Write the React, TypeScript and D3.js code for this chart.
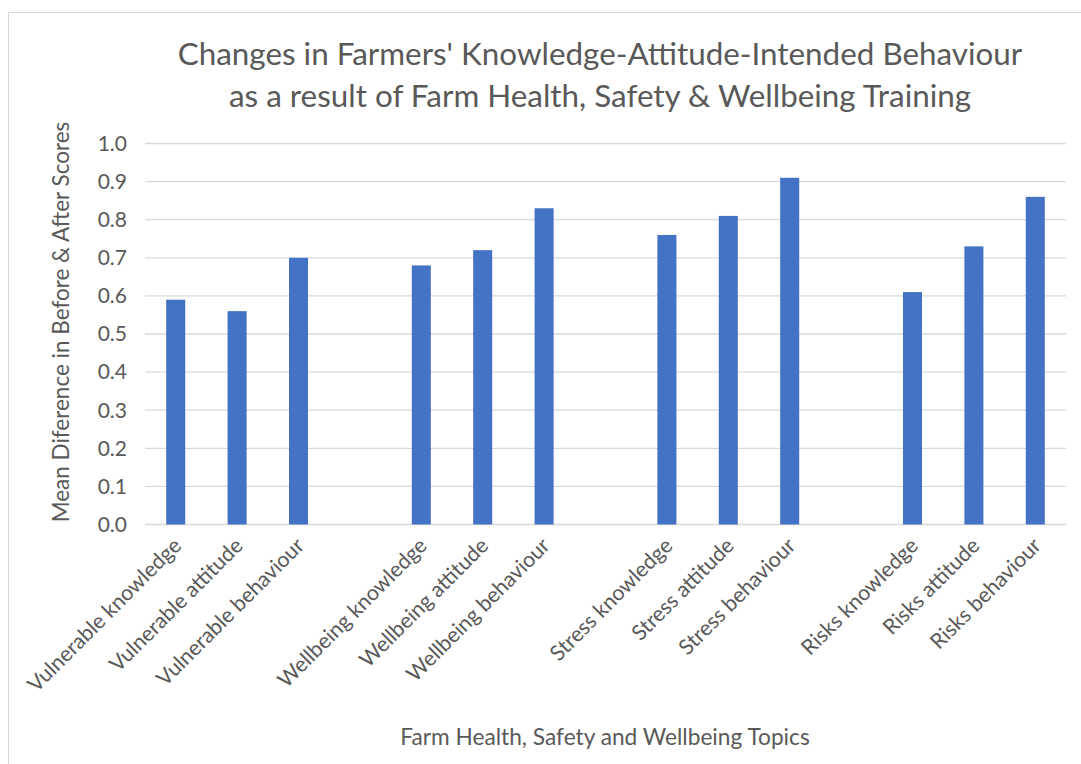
import React from "react";
import * as d3 from "d3";

const categories = [
  "Vulnerable knowledge", "Vulnerable attitude", "Vulnerable behaviour", "",
  "Wellbeing knowledge", "Wellbeing attitude", "Wellbeing behaviour", " ",
  "Stress knowledge", "Stress attitude", "Stress behaviour", "  ",
  "Risks knowledge", "Risks attitude", "Risks behaviour",
];
const values: (number | null)[] = [
  0.59, 0.56, 0.70, null,
  0.68, 0.72, 0.83, null,
  0.76, 0.81, 0.91, null,
  0.61, 0.73, 0.86,
];
const yTicks = [0, 0.1, 0.2, 0.3, 0.4, 0.5, 0.6, 0.7, 0.8, 0.9, 1.0];
const titleLines = [
  "Changes in Farmers' Knowledge-Attitude-Intended Behaviour",
  "as a result of Farm Health, Safety & Wellbeing Training",
];
const yTitle = "Mean Diference in Before & After Scores";
const xTitle = "Farm Health, Safety and Wellbeing Topics";

const W = 1081, H = 764;
const M = { left: 145, right: 1066, top: 143.5, bottom: 524.5 };
const FONT = "Lato, 'Open Sans', sans-serif";
const TXT = "#595959";

export default function App() {
  const x = d3.scaleBand<string>().domain(categories).range([M.left, M.right]).paddingInner(0.69).paddingOuter(0.345);
  const y = d3.scaleLinear().domain([0, 1]).range([M.bottom, M.top]);
  return (
    <svg width={W} height={H} style={{ position: "absolute", left: 0, top: 0, background: "#fff" }} fontFamily={FONT}>
      <rect x={8.5} y={12.5} width={1200} height={900} fill="#fff" stroke="#d9d9d9" strokeWidth={1} />
      {titleLines.map((t, i) => (
        <text key={i} x={600} y={65 + i * 42} textAnchor="middle" fontSize={31.4} fill={TXT}>{t}</text>
      ))}
      {yTicks.map((t) => (
        <g key={t}>
          <line x1={M.left} x2={M.right} y1={y(t)} y2={y(t)} stroke="#d9d9d9" strokeWidth={1.3} />
          <text x={127} y={y(t)} dy="0.35em" textAnchor="end" fontSize={21} fill={TXT}>{t.toFixed(1)}</text>
        </g>
      ))}
      {categories.map((c, i) => values[i] == null ? null : (
        <rect key={c} x={x(c)} y={y(values[i] as number)} width={x.bandwidth()} height={y(0) - y(values[i] as number)} fill="#4472c4" />
      ))}
      {categories.map((c, i) => values[i] == null ? null : (
        <text key={"l" + c} transform={`translate(${(x(c) as number) + x.bandwidth() / 2 + 7},${547}) rotate(-45)`} textAnchor="end" fontSize={21.3} fill={TXT}>{c}</text>
      ))}
      <text transform={`translate(69,322) rotate(-90)`} textAnchor="middle" fontSize={22.5} fill={TXT}>{yTitle}</text>
      <text x={605} y={745} textAnchor="middle" fontSize={22.7} fill={TXT}>{xTitle}</text>
    </svg>
  );
}
